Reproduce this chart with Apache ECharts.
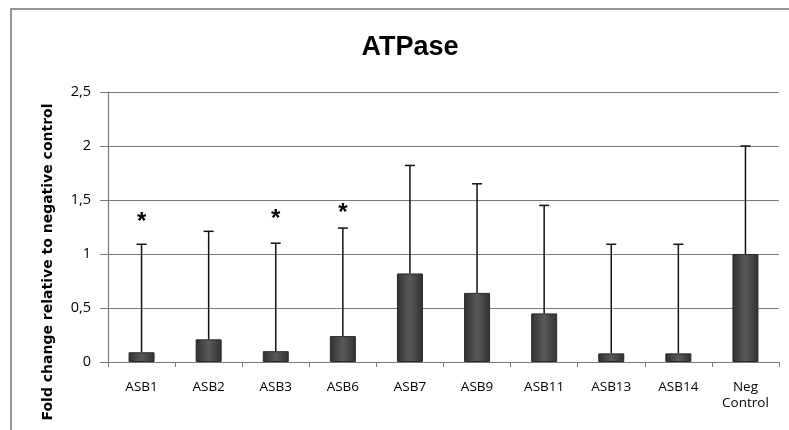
<!DOCTYPE html>
<html>
<head>
<meta charset="utf-8">
<style>html,body{margin:0;padding:0;background:#fff}#c{width:789px;height:430px}</style>
<script src="https://cdn.jsdelivr.net/npm/echarts@6/dist/echarts.min.js"></script>
</head>
<body>
<div id="c"></div>
<script>
var categories = ['ASB1','ASB2','ASB3','ASB6','ASB7','ASB9','ASB11','ASB13','ASB14','Neg\nControl'];
var foldChange = [0.09, 0.21, 0.10, 0.24, 0.82, 0.64, 0.45, 0.08, 0.08, 1.00];
var errorUpper = [1.00, 1.00, 1.00, 1.00, 1.00, 1.01, 1.00, 1.01, 1.01, 1.00];
var asteriskY = [1.34, null, 1.37, 1.42, null, null, null, null, null, null];
var yTicks = ['0','0,5','1','1,5','2','2,5'];

var chart = echarts.init(document.getElementById('c'), null, {renderer:'canvas'});
var font = '"Liberation Sans", Arial, sans-serif';
var font2 = '"Open Sans", "Liberation Sans", sans-serif';

var errData = foldChange.map(function(v,i){ return [i, v, v + errorUpper[i]]; });
var starData = [];
asteriskY.forEach(function(v,i){ if (v !== null) starData.push([i, v]); });

var option = {
  animation: false,
  backgroundColor: '#fff',
  title: {
    text: 'ATPase', left: 405, top: 29, textAlign: 'center',
    textStyle: {fontFamily: font, fontWeight: 'bold', fontSize: 27, color: '#000'}
  },
  grid: {left: 108, right: 10, top: 92, bottom: 68, containLabel: false},
  xAxis: {
    type: 'category', data: categories,
    axisLine: {lineStyle: {color: '#7a7a7a', width: 1.2}},
    axisTick: {show: true, length: 5, lineStyle: {color: '#7a7a7a'}},
    axisLabel: {fontFamily: font2, fontSize: 13.5, fontWeight: 500, color: '#000', margin: 17, lineHeight: 16, interval: 0}
  },
  yAxis: {
    type: 'value', min: 0, max: 2.5, interval: 0.5,
    axisLine: {show: true, lineStyle: {color: '#7a7a7a', width: 1.2}},
    axisTick: {show: true, length: 8, lineStyle: {color: '#7a7a7a'}},
    splitLine: {show: true, lineStyle: {color: '#7a7a7a', width: 1.2}},
    axisLabel: {fontFamily: font2, fontSize: 14.5, fontWeight: 500, color: '#000', margin: 17,
      formatter: function(v){ return yTicks[Math.round(v*2)]; }}
  },
  graphic: [
    {type: 'polyline', shape: {points: [[11,430],[11,9],[789,9]]}, style: {stroke: '#707070', lineWidth: 1.5, fill: null}},
    {type: 'text', x: 48, y: 262, rotation: Math.PI/2,
      style: {text: 'Fold change relative to negative control', font: 'bold 14px "DejaVu Sans", sans-serif', fill: '#000', textAlign: 'center', textVerticalAlign: 'middle'}}
  ],
  series: [
    {
      type: 'bar', data: foldChange, barWidth: 26,
      itemStyle: {
        color: new echarts.graphic.LinearGradient(0,0,1,0,[
          {offset:0, color:'#303030'},{offset:0.5, color:'#5a5a5a'},{offset:1, color:'#303030'}]),
        borderColor: '#2a2a2a', borderWidth: 1
      }
    },
    {
      type: 'custom', data: errData, z: 5,
      renderItem: function(params, api){
        var x = api.value(0);
        var p0 = api.coord([x, api.value(1)]);
        var p1 = api.coord([x, api.value(2)]);
        var hw = 5;
        return {type: 'group', children: [
          {type:'line', shape:{x1:p0[0], y1:p0[1], x2:p1[0], y2:p1[1]}, style:{stroke:'#111', lineWidth:1.5}},
          {type:'line', shape:{x1:p1[0]-hw, y1:p1[1], x2:p1[0]+hw, y2:p1[1]}, style:{stroke:'#111', lineWidth:1.5}}
        ]};
      }
    },
    {
      type: 'custom', data: starData, z: 6,
      renderItem: function(params, api){
        var p = api.coord([api.value(0), api.value(1)]);
        return {type:'text', x: p[0], y: p[1] + 5,
          style:{text:'*', font:'bold 24px ' + font, fill:'#000', textAlign:'center', textVerticalAlign:'middle'}};
      }
    }
  ]
};
chart.setOption(option);
</script>
</body>
</html>
